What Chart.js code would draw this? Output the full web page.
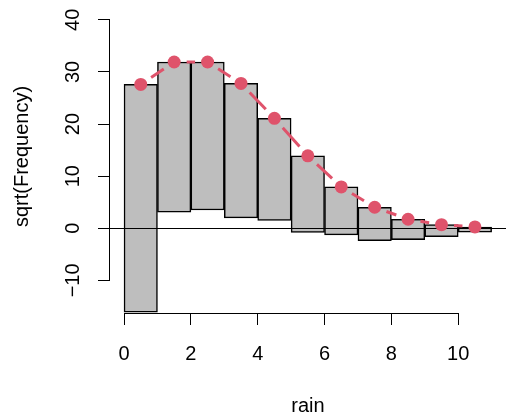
<!DOCTYPE html>
<html>
<head>
<meta charset="utf-8">
<script src="https://cdn.jsdelivr.net/npm/chart.js@4.4.1/dist/chart.umd.min.js"></script>
<style>
  body { margin: 0; background: #fff; }
  #wrap { width: 506px; height: 416px; }
</style>
</head>
<body>
<div id="wrap"><canvas id="rooto"></canvas></div>
<script>
// rain counts, hanging rootogram: bars hang from sqrt(expected) down by sqrt(observed)
const rain = [0, 1, 2, 3, 4, 5, 6, 7, 8, 9, 10]
const sqrtExpected = [27.6, 31.9, 31.9, 27.8, 21.1, 13.9, 7.93, 4.03, 1.73, 0.69, 0.25]
const sqrtObserved = [43.7, 28.8, 28.4, 25.8, 19.6, 14.7, 9.2, 6.4, 3.9, 2.3, 1.0]
const xTicks = [0, 2, 4, 6, 8, 10]
const yTicks = [-10, 0, 10, 20, 30, 40]
const refLevel = 0

const font = { family: 'Liberation Sans, Arial, sans-serif', size: 20 }
const red = '#DF536B'
const gap = 12.5 // space left around each point, like type = "b"

// each bar covers [r, r+1], centred at r + 0.5
const barData = rain.map((r, i) => ({ x: r + 0.5, y: [sqrtExpected[i] - sqrtObserved[i], sqrtExpected[i]] }))
const fitData = rain.map((r, i) => ({ x: r + 0.5, y: sqrtExpected[i] }))

// one solid piece per segment, cut back from both points
const gappedDash = c => {
  const d = Math.hypot(c.p1.x - c.p0.x, c.p1.y - c.p0.y)
  if (d <= 2 * gap) return [0, 10000]
  return [0, gap, d - 2 * gap, 10000 + c.p0DataIndex]
}

// horizontal reference line, drawn right after the bars so it sits on top of them
const refLine = {
  id: 'refLine',
  afterDatasetDraw(chart, args) {
    if (args.meta.type !== 'bar') return
    const { ctx, chartArea, scales } = chart
    const yy = Math.round(scales.y.getPixelForValue(refLevel)) + 0.5
    ctx.save()
    ctx.strokeStyle = '#000'
    ctx.lineWidth = 1
    ctx.beginPath()
    ctx.moveTo(chartArea.left, yy)
    ctx.lineTo(chartArea.right, yy)
    ctx.stroke()
    ctx.restore()
  }
}

// axis lines only from first to last tick
const axisLines = {
  id: 'axisLines',
  afterDraw(chart) {
    const { ctx, chartArea, scales: { x, y } } = chart
    ctx.save()
    ctx.strokeStyle = '#000'
    ctx.lineWidth = 1
    ctx.beginPath()
    const by = chartArea.bottom + 0.5
    ctx.moveTo(x.getPixelForValue(xTicks[0]), by)
    ctx.lineTo(x.getPixelForValue(xTicks[xTicks.length - 1]), by)
    const lx = chartArea.left - 0.5
    ctx.moveTo(lx, y.getPixelForValue(yTicks[0]))
    ctx.lineTo(lx, y.getPixelForValue(yTicks[yTicks.length - 1]))
    ctx.stroke()
    ctx.restore()
  }
}

new Chart(document.getElementById('rooto'), {
  data: {
    datasets: [
      {
        type: 'line',
        data: fitData,
        order: 1,
        borderColor: red,
        borderWidth: 3,
        borderCapStyle: 'butt',
        segment: { borderDash: gappedDash },
        pointRadius: 6.5,
        pointBackgroundColor: red,
        pointBorderWidth: 0,
        fill: false
      },
      {
        type: 'bar',
        data: barData,
        order: 2,
        backgroundColor: '#BEBEBE',
        borderColor: '#000',
        borderWidth: 1.5,
        borderSkipped: false,
        categoryPercentage: 1,
        barPercentage: 1
      }
    ]
  },
  options: {
    responsive: true,
    maintainAspectRatio: false,
    animation: false,
    layout: { padding: 0, autoPadding: false },
    plugins: { legend: { display: false }, tooltip: { enabled: false } },
    scales: {
      x: {
        type: 'linear',
        min: -0.42,
        max: 11.43,
        offset: false,
        afterBuildTicks: s => { s.ticks = xTicks.map(v => ({ value: v })) },
        afterFit: s => { s.height = 103; s.paddingLeft = 0; s.paddingRight = 0 },
        grid: { offset: false, drawOnChartArea: false, drawTicks: true, tickLength: 12, color: '#000' },
        border: { display: false },
        ticks: { color: '#000', font: font, padding: 17, maxRotation: 0 },
        title: { display: true, text: 'rain', color: '#000', font: { ...font, lineHeight: 1 }, padding: 0 }
      },
      y: {
        type: 'linear',
        min: -16.26,
        max: 43.8,
        afterBuildTicks: s => { s.ticks = yTicks.map(v => ({ value: v })) },
        afterFit: s => { s.width = 110; s.paddingTop = 0; s.paddingBottom = 0 },
        grid: { drawOnChartArea: false, drawTicks: true, tickLength: 12, color: '#000' },
        border: { display: false },
        ticks: {
          color: '#000',
          font: font,
          padding: 8,
          minRotation: 90,
          maxRotation: 90,
          crossAlign: 'center',
          callback: v => String(v).replace('-', '\u2212')
        },
        title: { display: true, text: 'sqrt(Frequency)', color: '#000', font: font, padding: 10 }
      }
    }
  },
  plugins: [refLine, axisLines]
})
</script>
</body>
</html>
